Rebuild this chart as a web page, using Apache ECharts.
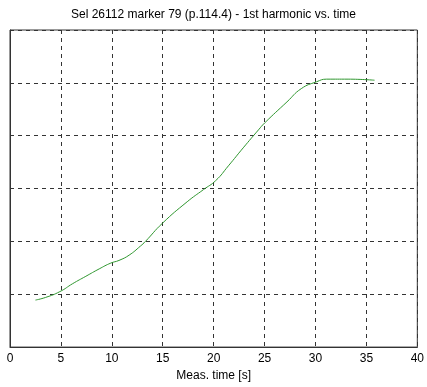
<!DOCTYPE html>
<html><head><meta charset="utf-8">
<script src="https://cdn.jsdelivr.net/npm/echarts@6/dist/echarts.min.js"></script>
<style>html,body{margin:0;padding:0;background:#fff}#c{width:427px;height:387px}</style>
</head><body><div id="c"></div>
<script>
const titleText = "Sel 26112 marker 79 (p.114.4) - 1st harmonic vs. time";
const xAxisName = "Meas. time [s]";
const times = [2.5, 3.5, 4.9, 6.15, 7.45, 8.76, 9.9, 10.7, 11.7, 12.8, 13.3, 14.95, 17.4, 19.0, 20.2, 21.45, 22.9, 24.4, 25.0, 27.2, 28.6, 30.1, 31.1, 33.2, 35.8];
const values = [0.89, 0.94, 1.05, 1.20, 1.34, 1.48, 1.59, 1.64, 1.74, 1.91, 2.0, 2.34, 2.75, 2.98, 3.15, 3.43, 3.77, 4.11, 4.24, 4.64, 4.89, 5.02, 5.07, 5.07, 5.05];
const chart = echarts.init(document.getElementById('c'));
chart.setOption({
  animation:false,
  title:{text:titleText,left:'center',top:4,textStyle:{fontFamily:'Liberation Sans',fontSize:12,fontWeight:'normal',color:'#000'}},
  grid:{left:10,right:6,top:30,bottom:34,show:true,borderColor:'#333',borderWidth:1},
  xAxis:{type:'value',min:0,max:40,interval:5,name:xAxisName,nameLocation:'middle',nameGap:21,
    nameTextStyle:{fontFamily:'Liberation Sans',fontSize:12,color:'#000'},
    axisLine:{show:true,lineStyle:{color:'#333'}},axisTick:{show:false},
    axisLabel:{fontFamily:'Liberation Sans',fontSize:12,color:'#000',margin:6},
    splitLine:{show:true,lineStyle:{color:'#333',type:[4,4]}}},
  yAxis:{type:'value',min:0,max:6,interval:1,
    axisLine:{show:true,lineStyle:{color:'#333'}},axisTick:{show:false},axisLabel:{show:false},
    splitLine:{show:true,lineStyle:{color:'#333',type:[4,4]}}},
  series:[{type:'line',data:times.map((t,i)=>[t,values[i]]),showSymbol:false,smooth:true,
    lineStyle:{color:'#2e962e',width:1}}]
});
</script></body></html>
